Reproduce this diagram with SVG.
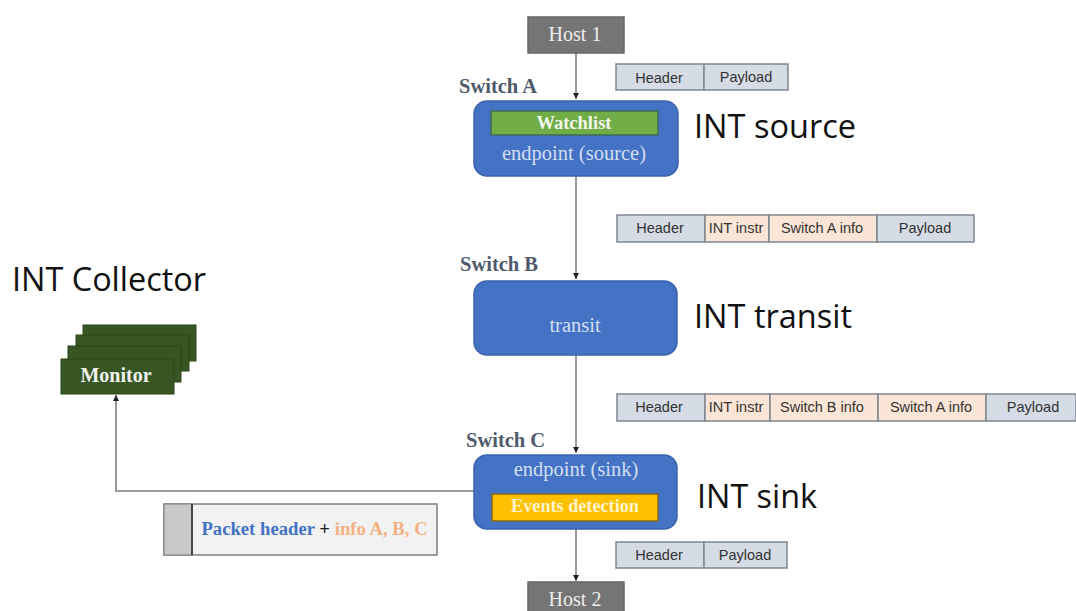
<svg xmlns="http://www.w3.org/2000/svg" width="1076" height="611" viewBox="0 0 1076 611">
<defs>
<marker id="arr" markerUnits="userSpaceOnUse" markerWidth="8" markerHeight="7" refX="6" refY="3" orient="auto"><path d="M0,0 L6,3 L0,6 Z" fill="#222"/></marker>
</defs>
<style>
text{font-family:"Liberation Serif",serif;text-anchor:middle}
.sw{fill:#4472c4;stroke:#3a63ad;stroke-width:1.5}
.host{fill:#757575;stroke:#666;stroke-width:1.5}
.hosttx{fill:#eee;font-size:20px}
.lbl{fill:#4f5a6b;font-size:20.500px;font-weight:bold;text-anchor:start}
.big{fill:#111;font-family:"Open Sans",sans-serif;font-size:33px;text-anchor:start}
.cell{stroke:#7f8690;stroke-width:1.5}
.h{fill:#d6dce5}
.o{fill:#fbe5d6}
.pk{fill:#333;font-family:"Liberation Sans",sans-serif;font-size:14.500px}
.sub{fill:#d3dff3;font-size:20.500px}
.cn{fill:none;stroke:#9a9a9a;stroke-width:2}
.mon{fill:#375623;stroke:#2c4619;stroke-width:1}
</style>
<g id="connectors">
<path class="cn" d="M576 53V99" marker-end="url(#arr)"/>
<path class="cn" d="M576 176V279" marker-end="url(#arr)"/>
<path class="cn" d="M576 355V453" marker-end="url(#arr)"/>
<path class="cn" d="M576 529V581" marker-end="url(#arr)"/>
<path class="cn" d="M474 491H116V395" marker-end="url(#arr)"/>
</g>
<g id="host1"><rect class="host" x="528" y="17" width="96" height="36"/><text class="hosttx" x="575" y="41">Host 1</text></g>
<g id="host2"><rect class="host" x="528" y="582" width="96" height="40"/><text class="hosttx" x="575" y="606">Host 2</text></g>
<g id="switch-a">
<text class="lbl" x="459" y="93">Switch A</text>
<rect class="sw" x="474" y="101" width="204" height="75" rx="13"/>
<rect x="491" y="111" width="167" height="24" fill="#70ad47" stroke="#3f6b55" stroke-width="1.5"/>
<text x="574" y="129" fill="#f2f7ec" font-size="18.500" font-weight="bold">Watchlist</text>
<text class="sub" x="574" y="160">endpoint (source)</text>
</g>
<g id="switch-b">
<text class="lbl" x="460" y="271">Switch B</text>
<rect class="sw" x="474" y="281" width="203" height="74" rx="13"/>
<text class="sub" x="575" y="332">transit</text>
</g>
<g id="switch-c">
<text class="lbl" x="466" y="447">Switch C</text>
<rect class="sw" x="474" y="455" width="203" height="74" rx="13"/>
<rect x="492" y="494" width="166" height="27" fill="#ffc000" stroke="#7f6a20" stroke-width="1.5"/>
<text class="sub" x="576" y="476">endpoint (sink)</text>
<text x="575" y="512" fill="#fff4d0" font-size="18.200" font-weight="bold">Events detection</text>
</g>
<g id="monitor">
<rect class="mon" x="83" y="325" width="113" height="36"/>
<rect class="mon" x="76" y="335" width="113" height="36"/>
<rect class="mon" x="68" y="346" width="113" height="36"/>
<rect class="mon" x="61" y="359" width="113" height="35"/>
<text x="116" y="382" fill="#f2f2f2" font-size="20" font-weight="bold">Monitor</text>
</g>
<g id="packet-1">
<rect class="cell h" x="616" y="64" width="88" height="26"/><rect class="cell h" x="704" y="64" width="84" height="26"/>
<text class="pk" x="659" y="83">Header</text><text class="pk" x="746" y="82">Payload</text>
</g>
<g id="packet-2">
<rect class="cell h" x="617" y="215" width="88" height="27"/><rect class="cell o" x="705" y="215" width="64" height="27"/><rect class="cell o" x="769" y="215" width="108" height="27"/><rect class="cell h" x="877" y="215" width="97" height="27"/>
<text class="pk" x="660" y="233">Header</text><text class="pk" x="736" y="233">INT instr</text><text class="pk" x="822" y="233">Switch A info</text><text class="pk" x="925" y="233">Payload</text>
</g>
<g id="packet-3">
<rect class="cell h" x="617" y="394" width="88" height="27"/><rect class="cell o" x="705" y="394" width="65" height="27"/><rect class="cell o" x="770" y="394" width="108" height="27"/><rect class="cell o" x="878" y="394" width="108" height="27"/><rect class="cell h" x="986" y="394" width="90" height="27"/>
<text class="pk" x="659" y="412">Header</text><text class="pk" x="736" y="412">INT instr</text><text class="pk" x="822" y="412">Switch B info</text><text class="pk" x="931" y="412">Switch A info</text><text class="pk" x="1033" y="412">Payload</text>
</g>
<g id="packet-4">
<rect class="cell h" x="616" y="542" width="88" height="26"/><rect class="cell h" x="704" y="542" width="83" height="26"/>
<text class="pk" x="659" y="560">Header</text><text class="pk" x="745" y="560">Payload</text>
</g>
<g id="report">
<rect x="164" y="504" width="273" height="51" fill="#f2f2f2" stroke="#7f7f7f" stroke-width="1.5"/>
<rect x="164" y="504" width="28" height="51" fill="#c9c9c9" stroke="#7f7f7f" stroke-width="1"/>
<path d="M192 504V555" stroke="#444" stroke-width="2"/>
<text x="314.500" y="535" font-size="18.700" font-weight="bold" fill="#4472c4">Packet header <tspan fill="#222">+</tspan> <tspan fill="#f4b183">info A, B, C</tspan></text>
</g>
<text class="big" x="694" y="138" textLength="162" lengthAdjust="spacingAndGlyphs">INT source</text>
<text class="big" x="694" y="328" textLength="158" lengthAdjust="spacingAndGlyphs">INT transit</text>
<text class="big" x="697" y="508" textLength="120" lengthAdjust="spacingAndGlyphs">INT sink</text>
<text class="big" x="12" y="291" textLength="194" lengthAdjust="spacingAndGlyphs">INT Collector</text>
</svg>
